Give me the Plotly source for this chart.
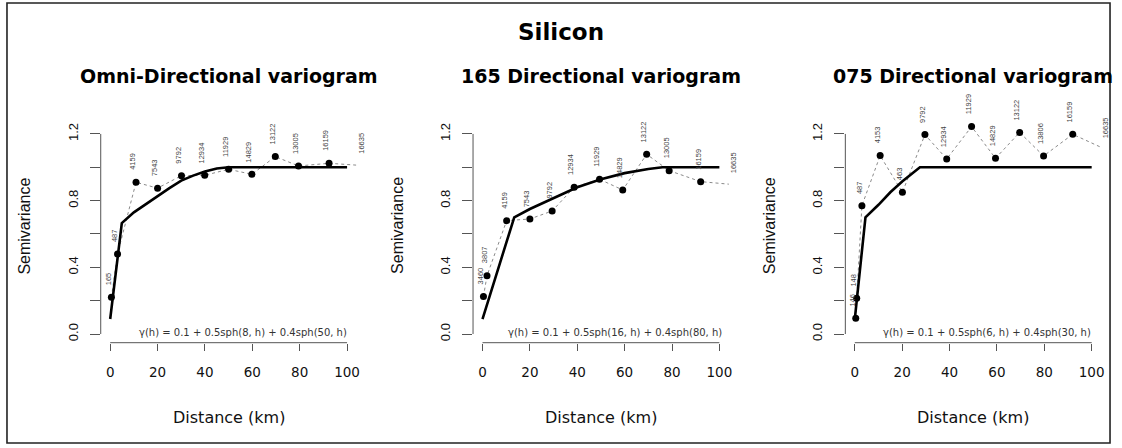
import plotly.graph_objects as go

# ---- empirical semivariances (lag distance in km, semivariance, number of pairs) ----
omni_dist = [0.5, 3.1, 10.9, 20.0, 30.1, 39.9, 50.0, 59.8, 69.7, 79.5, 92.4, 107.0]
omni_gamma = [0.22, 0.48, 0.91, 0.875, 0.95, 0.952, 0.988, 0.958, 1.064, 1.008, 1.024, 1.01]
omni_pairs = ["165", "487", "4159", "7543", "9792", "12934", "11929", "14829",
              "13122", "13005", "16159", "16635"]

d165_dist = [0.4, 1.9, 10.2, 20.0, 29.4, 38.7, 49.4, 59.2, 69.3, 78.8, 92.1, 107.0]
d165_gamma = [0.225, 0.35, 0.68, 0.69, 0.738, 0.88, 0.928, 0.864, 1.078, 0.98, 0.914, 0.895]
d165_pairs = ["3460", "3807", "4159", "7543", "9792", "12934", "11929", "14829",
              "13122", "13005", "16159", "16635"]

d075_dist = [0.4, 0.8, 3.0, 10.7, 20.1, 29.6, 38.8, 49.3, 59.4, 69.6, 79.7, 92.0, 107.0]
d075_gamma = [0.094, 0.214, 0.77, 1.07, 0.85, 1.196, 1.05, 1.244, 1.054, 1.209, 1.068, 1.198, 1.10]
d075_pairs = ["146", "148", "487", "4153", "463", "9792", "12934", "11929", "14829",
              "13122", "13806", "16159", "16635"]

# ---- fitted nested spherical models (vertices of the drawn model line) ----
omni_fit_dist = [0, 4.9, 10, 15, 20, 25, 30, 35, 40, 45, 50, 100]
omni_fit_gamma = [0.09, 0.665, 0.73, 0.78, 0.83, 0.875, 0.92, 0.95, 0.975, 0.993, 1.0, 1.0]

d165_fit_dist = [0, 13.4, 20, 30, 40, 50, 60, 70, 76, 100]
d165_fit_gamma = [0.09, 0.70, 0.75, 0.815, 0.88, 0.928, 0.965, 0.99, 1.0, 1.0]

d075_fit_dist = [0, 4.5, 10, 15, 20, 25, 27.5, 100]
d075_fit_gamma = [0.09, 0.70, 0.775, 0.85, 0.915, 0.975, 1.0, 1.0]

panel_titles = ["Omni-Directional variogram", "165 Directional variogram",
                "075 Directional variogram"]
model_labels = ["γ(h) = 0.1 + 0.5sph(8, h) + 0.4sph(50, h)",
                "γ(h) = 0.1 + 0.5sph(16, h) + 0.4sph(80, h)",
                "γ(h) = 0.1 + 0.5sph(6, h) + 0.4sph(30, h)"]

x_ticks = [0, 20, 40, 60, 80, 100]
y_ticks = [0.0, 0.2, 0.4, 0.6, 0.8, 1.0, 1.2]
y_ticktext = ["0.0", "", "0.4", "", "0.8", "", "1.2"]

panels = [
    (omni_dist, omni_gamma, omni_pairs, omni_fit_dist, omni_fit_gamma),
    (d165_dist, d165_gamma, d165_pairs, d165_fit_dist, d165_fit_gamma),
    (d075_dist, d075_gamma, d075_pairs, d075_fit_dist, d075_fit_gamma),
]

# ---- layout geometry (pixels) ----
W, H = 1122, 448
PANEL_STEP = 373.3
PLOT_L, PLOT_R = 101.0, 357.5
PLOT_T, PLOT_B = 108.6, 342.7
X_RANGE = [-4, 104]
Y_RANGE = [-0.052, 1.352]

SANS = "Liberation Sans, Arial, sans-serif"
WIDE = "DejaVu Sans, sans-serif"

fig = go.Figure()
annotations = []
shapes = []
layout_axes = {}

for i, (dist, gam, pairs, fdist, fgam) in enumerate(panels):
    n = "" if i == 0 else str(i + 1)
    xref, yref = "x" + n, "y" + n
    left = PLOT_L + i * PANEL_STEP
    right = PLOT_R + i * PANEL_STEP

    # dashed line joining the empirical points
    fig.add_trace(go.Scatter(
        x=dist, y=gam, mode="lines", xaxis=xref, yaxis=yref,
        line=dict(color="#8a8a8a", width=1, dash="3px,3px"),
        hoverinfo="skip", showlegend=False))
    # fitted model
    fig.add_trace(go.Scatter(
        x=fdist, y=fgam, mode="lines", xaxis=xref, yaxis=yref,
        line=dict(color="black", width=2.6),
        hoverinfo="skip", showlegend=False))
    # empirical points inside the plotting window
    inside = [(d, g) for d, g in zip(dist, gam) if X_RANGE[0] <= d <= X_RANGE[1]]
    fig.add_trace(go.Scatter(
        x=[p[0] for p in inside], y=[p[1] for p in inside], mode="markers",
        xaxis=xref, yaxis=yref, cliponaxis=False,
        marker=dict(color="black", size=7),
        hoverinfo="skip", showlegend=False))

    # pair counts written vertically above each point; counts of lags beyond
    # the x range are still written, so they are placed on the axis domain
    for d, g, lab in zip(dist, gam, pairs):
        if X_RANGE[0] <= d <= X_RANGE[1]:
            ax_ref, ax_x = xref, d
        else:
            ax_ref = xref + " domain"
            ax_x = (d - X_RANGE[0]) / (X_RANGE[1] - X_RANGE[0])
        annotations.append(dict(
            x=ax_x, y=g, xref=ax_ref, yref=yref, text=lab, showarrow=False,
            textangle=-90, xanchor="center", yanchor="bottom",
            xshift=-3, yshift=10,
            font=dict(family=SANS, size=7.5, color="#444")))

    # model equation
    annotations.append(dict(
        x=56, y=0.01, xref=xref, yref=yref, text=model_labels[i], showarrow=False,
        xanchor="center", yanchor="middle",
        font=dict(family=WIDE, size=10, color="#333")))

    # panel title
    annotations.append(dict(
        x=(left + right) / 2 / W, y=1 - 76 / H, xref="paper", yref="paper",
        text="<b>" + panel_titles[i] + "</b>", showarrow=False,
        xanchor="center", yanchor="middle",
        font=dict(family=WIDE, size=19, color="black")))

    # axis titles
    annotations.append(dict(
        x=(left + right) / 2 / W, y=1 - 417 / H, xref="paper", yref="paper",
        text="Distance (km)", showarrow=False, xanchor="center", yanchor="middle",
        font=dict(family=WIDE, size=16, color="#111")))
    annotations.append(dict(
        x=(25 + i * PANEL_STEP) / W, y=1 - (PLOT_T + PLOT_B) / 2 / H,
        xref="paper", yref="paper", text="Semivariance", showarrow=False,
        textangle=-90, xanchor="center", yanchor="middle",
        font=dict(family=SANS, size=16, color="#111")))

    # R-style axis lines spanning first to last tick
    shapes.append(dict(type="line", xref=xref + " domain", yref=yref,
                       x0=0, x1=0, y0=y_ticks[0], y1=y_ticks[-1],
                       line=dict(color="#555", width=1)))
    shapes.append(dict(type="line", xref=xref, yref=yref + " domain",
                       x0=x_ticks[0], x1=x_ticks[-1], y0=0, y1=0,
                       line=dict(color="#555", width=1)))

    layout_axes["xaxis" + n] = dict(
        domain=[left / W, right / W], range=X_RANGE, anchor=yref,
        showgrid=False, zeroline=False, showline=False,
        tickmode="array", tickvals=x_ticks, ticks="outside", ticklen=7,
        tickcolor="#555", ticklabelstandoff=10,
        tickfont=dict(family=WIDE, size=13.5, color="#111"))
    layout_axes["yaxis" + n] = dict(
        domain=[1 - PLOT_B / H, 1 - PLOT_T / H], range=Y_RANGE, anchor=xref,
        showgrid=False, zeroline=False, showline=False,
        tickmode="array", tickvals=y_ticks, ticktext=y_ticktext,
        ticks="outside", ticklen=10, tickcolor="#555", tickangle=-90,
        ticklabelstandoff=7,
        tickfont=dict(family=SANS, size=13, color="#111"))

# main title
annotations.append(dict(
    x=563 / W, y=1 - 32 / H, xref="paper", yref="paper", text="<b>Silicon</b>",
    showarrow=False, xanchor="center", yanchor="middle",
    font=dict(family=WIDE, size=23, color="black")))

# outer frame
shapes.append(dict(type="rect", xref="paper", yref="paper",
                   x0=7 / W, x1=1113 / W, y0=1 - 443 / H, y1=1 - 3 / H,
                   line=dict(color="#222", width=1.6)))

fig.update_layout(
    width=W, height=H, margin=dict(l=0, r=0, t=0, b=0),
    paper_bgcolor="white", plot_bgcolor="white",
    annotations=annotations, shapes=shapes, showlegend=False,
    **layout_axes)

fig.write_html("out.html", config={"displayModeBar": False})
